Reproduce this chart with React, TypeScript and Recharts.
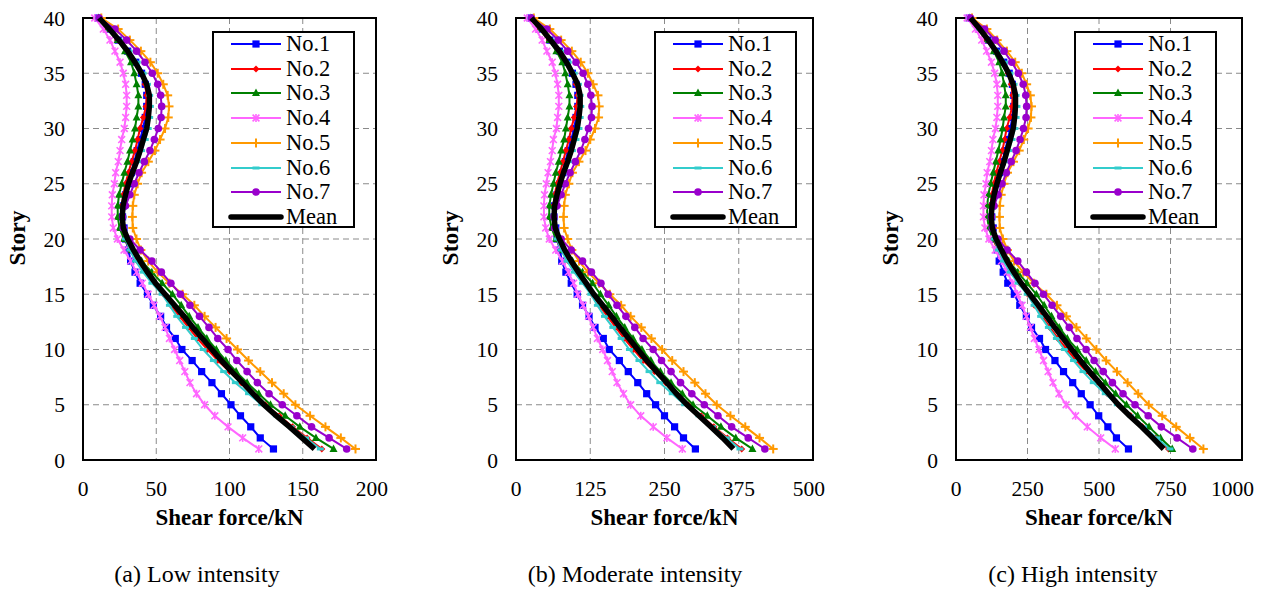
import React from 'react';
import { ScatterChart, Scatter, XAxis, YAxis, CartesianGrid, ReferenceArea } from 'recharts';

const FONT = "'Liberation Serif', 'Times New Roman', serif";

const stories = [1, 2, 3, 4, 5, 6, 7, 8, 9, 10, 11, 12, 13, 14, 15, 16, 17, 18, 19, 20, 21, 22, 23, 24, 25, 26, 27, 28, 29, 30, 31, 32, 33, 34, 35, 36, 37, 38, 39, 40];
const storyTicks = [0, 5, 10, 15, 20, 25, 30, 35, 40];

const lowTicks = [0, 50, 100, 150, 200];
const modTicks = [0, 125, 250, 375, 500];
const highTicks = [0, 250, 500, 750, 1000];

// Low intensity (kN), story 1 -> 40
const lowNo1 = [130, 121, 114.5, 107.5, 101, 94.5, 88, 81, 74.5, 67.5, 63, 57, 53, 48, 44, 39, 35.5, 32.5, 31, 29, 28, 27, 27.5, 29, 31, 33, 35, 37, 39, 41, 42.5, 43.5, 43.5, 42.5, 40, 36, 30.5, 24, 17, 10];
const lowNo2 = [163, 153, 143, 134, 124.5, 116, 108, 100, 92, 85, 78, 72, 66, 60, 55, 49, 43, 37, 32, 28.5, 26.5, 26, 26.4, 27.5, 29, 31, 33.2, 35.5, 37.3, 38.9, 41.2, 43, 43.5, 42.3, 40, 35.5, 29.5, 23.5, 17, 10.5];
const lowNo3 = [171, 159, 148, 138, 128, 120, 112, 104.5, 97.5, 91, 84.5, 78.5, 72.5, 67, 61, 54, 47, 40, 33.5, 28, 25, 23.7, 23.7, 24.6, 26.4, 28.2, 30.3, 32.1, 33.9, 35.5, 36.6, 37.8, 37.8, 36.6, 35, 32.8, 28.7, 23.7, 17.3, 10.5];
const lowNo4 = [120, 109, 99, 90, 83, 77.5, 73, 69.5, 66, 62.5, 59, 56, 52.5, 48.5, 44.5, 40.5, 36.5, 32.5, 28, 23.5, 20.7, 19.6, 19.6, 20, 21.4, 22.3, 24.1, 25.3, 26.4, 28.2, 29.1, 29.8, 29.8, 29.1, 27.5, 25.3, 21.8, 18.4, 13.9, 8];
const lowNo5 = [186, 176, 165.5, 155, 145, 137, 129, 121, 113, 105.5, 98, 90.5, 83, 76, 68, 59, 51, 44.5, 39.5, 36.5, 34, 33.7, 34, 35, 37.3, 40, 44.6, 49.1, 52.6, 56, 58.2, 58.7, 57.8, 54.8, 51, 46, 39.5, 32, 24, 12.5];
const lowNo6 = [162, 152, 142, 132, 122, 113, 104, 96, 89, 82, 76, 70, 64, 59, 54, 47, 41, 36, 32, 29, 27.5, 27.5, 28.5, 30, 32, 34.5, 37.5, 40, 42.5, 44.5, 45.5, 46, 45.5, 44, 41, 37, 31.5, 25, 18, 10.5];
const lowNo7 = [180, 168, 156, 146, 136, 127, 119, 112, 105, 99, 92, 86, 79.5, 73, 66.5, 60, 53.5, 47, 39, 32, 27.5, 27, 29, 32, 35, 38.2, 41.9, 45.7, 48.7, 51.4, 53.3, 53.7, 53, 51, 47.3, 42.3, 36.6, 29.8, 21.8, 11];
const lowMean = [158, 149.5, 141, 132, 123.5, 116, 109, 101.5, 94.5, 88, 81.5, 75, 69, 62.5, 56, 49.5, 44, 39, 34.5, 30.5, 27.5, 26.8, 27.3, 29, 31, 33.7, 36.6, 39, 41.2, 43.5, 44.6, 45.3, 45.3, 43.5, 40, 35.5, 30.5, 24.5, 18, 11];

// Moderate intensity (kN)
const modNo1 = [302, 282, 267, 250, 235, 220, 205, 189, 174, 157, 147, 133, 123, 112, 103, 93, 84, 77, 74, 69, 67, 64, 65, 69, 74, 79, 83, 88, 93, 98, 101, 104, 104, 101, 95, 86, 73, 57, 40, 24];
const modNo2 = [380, 356, 333, 312, 290, 270, 252, 233, 214, 198, 182, 168, 154, 140, 128, 117, 102, 88, 76, 68, 63, 62, 63, 65, 69, 74, 79, 84, 89, 93, 98, 102, 104, 101, 95, 84, 70, 56, 40, 25];
const modNo3 = [398, 370, 345, 322, 298, 280, 261, 243, 227, 212, 197, 183, 169, 156, 142, 129, 112, 95, 80, 67, 60, 56, 56, 59, 63, 67, 72, 76, 81, 84, 87, 90, 90, 87, 83, 78, 68, 56, 41, 25];
const modNo4 = [280, 254, 231, 210, 193, 181, 170, 162, 154, 146, 137, 130, 122, 113, 104, 97, 88, 78, 67, 56, 50, 47, 47, 48, 51, 54, 58, 61, 63, 68, 70, 72, 72, 70, 66, 61, 52, 44, 33, 19];
const modNo5 = [433, 410, 386, 361, 338, 319, 301, 282, 263, 246, 228, 211, 193, 177, 158, 140, 121, 106, 94, 87, 81, 80, 81, 83, 89, 95, 106, 117, 125, 133, 139, 140, 138, 130, 121, 109, 94, 76, 57, 30];
const modNo6 = [377, 354, 331, 308, 284, 263, 242, 224, 207, 191, 177, 163, 149, 137, 126, 112, 98, 86, 76, 69, 65, 65, 68, 71, 76, 82, 89, 95, 101, 106, 108, 109, 108, 105, 98, 88, 75, 60, 43, 25];
const modNo7 = [419, 391, 363, 340, 317, 296, 277, 261, 245, 231, 214, 200, 185, 170, 155, 143, 127, 112, 93, 76, 65, 64, 69, 76, 83, 91, 100, 109, 116, 122, 127, 128, 126, 121, 113, 101, 87, 71, 52, 26];
const modMean = [366, 348, 328, 308, 288, 270, 254, 237, 220, 205, 190, 175, 161, 146, 131, 118, 105, 93, 82, 73, 66, 64, 65, 69, 74, 80, 87, 93, 98, 103, 106, 108, 108, 104, 95, 85, 73, 58, 43, 26];

// High intensity (kN)
const highNo1 = [603, 561, 531, 499, 469, 438, 408, 376, 346, 313, 292, 264, 246, 223, 204, 181, 165, 151, 144, 135, 130, 125, 128, 135, 144, 153, 162, 172, 181, 190, 197, 202, 202, 197, 186, 167, 142, 111, 79, 46];
const highNo2 = [743, 698, 652, 611, 568, 529, 492, 456, 420, 388, 356, 328, 301, 274, 251, 223, 196, 169, 146, 130, 121, 119, 120, 125, 132, 141, 151, 162, 170, 177, 188, 196, 198, 193, 182, 162, 135, 107, 78, 48];
const highNo3 = [756, 715, 675, 635, 596, 558, 522, 488, 455, 424, 389, 361, 334, 308, 281, 248, 216, 184, 154, 129, 115, 109, 109, 113, 121, 130, 139, 148, 156, 163, 168, 174, 174, 168, 161, 151, 132, 109, 80, 48];
const highNo4 = [557, 506, 459, 418, 385, 360, 339, 322, 306, 290, 274, 260, 246, 231, 215, 198, 179, 159, 137, 115, 101, 96, 96, 98, 105, 109, 118, 124, 129, 138, 143, 146, 146, 143, 135, 124, 107, 90, 68, 39];
const highNo5 = [865, 818, 770, 721, 674, 637, 600, 563, 525, 491, 456, 421, 386, 353, 316, 272, 235, 203, 180, 164, 153, 152, 153, 158, 168, 180, 201, 221, 237, 252, 262, 264, 260, 247, 230, 207, 178, 144, 108, 56];
const highNo6 = [748, 702, 656, 610, 564, 522, 480, 444, 411, 379, 351, 323, 296, 273, 249, 217, 189, 166, 148, 134, 127, 127, 132, 139, 148, 159, 173, 185, 196, 206, 210, 213, 210, 203, 189, 171, 146, 116, 83, 49];
const highNo7 = [828, 773, 718, 672, 626, 584, 547, 515, 483, 455, 423, 396, 366, 336, 306, 276, 246, 216, 179, 147, 127, 124, 133, 147, 161, 176, 193, 210, 224, 236, 245, 247, 244, 235, 218, 195, 168, 137, 100, 51];
const highMean = [726, 688, 649, 607, 568, 534, 501, 467, 435, 405, 375, 345, 317, 288, 258, 228, 202, 179, 159, 140, 127, 123, 126, 133, 143, 155, 168, 179, 190, 200, 205, 208, 208, 200, 184, 163, 140, 113, 83, 51];

const seriesNames = ['No.1', 'No.2', 'No.3', 'No.4', 'No.5', 'No.6', 'No.7', 'Mean'];
const seriesColors = ['#0000ff', '#ff0000', '#008000', '#ff66ff', '#ff9900', '#33cccc', '#9900cc', '#000000'];
const seriesMarkers = ['square', 'diamond', 'triangle', 'star', 'plus', 'dash', 'circle', 'none'];

function Glyph({ kind, cx, cy, color }: { kind: string; cx: number; cy: number; color: string }) {
  switch (kind) {
    case 'square':
      return <rect x={cx - 3.6} y={cy - 3.6} width={7.2} height={7.2} fill={color} />;
    case 'diamond':
      return <polygon points={`${cx},${cy - 3.5} ${cx + 3.5},${cy} ${cx},${cy + 3.5} ${cx - 3.5},${cy}`} fill={color} />;
    case 'triangle':
      return <polygon points={`${cx},${cy - 4.5} ${cx + 4},${cy + 3} ${cx - 4},${cy + 3}`} fill={color} />;
    case 'star':
      return (
        <g stroke={color} strokeWidth={1.6}>
          <line x1={cx - 3.4} y1={cy - 3.4} x2={cx + 3.4} y2={cy + 3.4} />
          <line x1={cx - 3.4} y1={cy + 3.4} x2={cx + 3.4} y2={cy - 3.4} />
          <line x1={cx} y1={cy - 4} x2={cx} y2={cy + 4} />
        </g>
      );
    case 'plus':
      return (
        <g stroke={color} strokeWidth={2}>
          <line x1={cx - 4.5} y1={cy} x2={cx + 4.5} y2={cy} />
          <line x1={cx} y1={cy - 4.5} x2={cx} y2={cy + 4.5} />
        </g>
      );
    case 'dash':
      return <line x1={cx - 3.5} y1={cy} x2={cx + 3.5} y2={cy} stroke={color} strokeWidth={3} />;
    case 'circle':
      return <circle cx={cx} cy={cy} r={3.8} fill={color} />;
    default:
      return <g />;
  }
}

function toPoints(values: number[]) {
  return values.map((v, i) => ({ x: v, y: stories[i] }));
}

interface PanelProps {
  plotLeft: number;
  plotWidth: number;
  xMax: number;
  xTicks: number[];
  series: number[][];
  legendLeft: number;
  caption: string;
  captionX: number;
}

const Y_AXIS_W = 70;
const PLOT_TOP = 18;
const PLOT_H = 442;
const X_AXIS_H = 70;

function Legend({ left }: { left: number }) {
  return (
    <div
      style={{
        position: 'absolute',
        left,
        top: 31,
        width: 143,
        height: 197,
        boxSizing: 'border-box',
        border: '2px solid #000',
        background: '#fff',
      }}
    >
      {seriesNames.map((name, i) => {
        const cy = 11 + i * 24.7;
        return (
          <React.Fragment key={name}>
            <svg style={{ position: 'absolute', left: 14, top: cy - 8 }} width={56} height={16}>
              <line
                x1={3}
                y1={8}
                x2={53}
                y2={8}
                stroke={seriesColors[i]}
                strokeWidth={i === 7 ? 5.5 : 2.2}
                strokeLinecap={i === 7 ? 'round' : 'butt'}
              />
              <Glyph kind={seriesMarkers[i]} cx={28} cy={8} color={seriesColors[i]} />
            </svg>
            <div
              style={{
                position: 'absolute',
                left: 72,
                top: cy - 12,
                height: 24,
                lineHeight: '24px',
                fontFamily: FONT,
                fontSize: 22.5,
                color: '#000',
                whiteSpace: 'nowrap',
              }}
            >
              {name}
            </div>
          </React.Fragment>
        );
      })}
    </div>
  );
}

function Panel({ plotLeft, plotWidth, xMax, xTicks, series, legendLeft, caption, captionX }: PanelProps) {
  const width = Y_AXIS_W + plotWidth + 12;
  const height = PLOT_TOP + PLOT_H + X_AXIS_H;
  const tickStyle = { fontFamily: FONT, fontSize: 21.5, fill: '#000' };
  return (
    <>
      <div style={{ position: 'absolute', left: plotLeft - Y_AXIS_W, top: 0, fontFamily: FONT }}>
        <ScatterChart width={width} height={height} margin={{ top: PLOT_TOP, right: 12, bottom: 0, left: 0 }}>
          <CartesianGrid stroke="#8a8a8a" strokeDasharray="6 4" strokeWidth={1} />
          <XAxis
            type="number"
            dataKey="x"
            domain={[0, xMax]}
            ticks={xTicks}
            allowDataOverflow
            height={X_AXIS_H}
            axisLine={false}
            tickLine={false}
            tickSize={0}
            tickMargin={21}
            tick={tickStyle}
            label={{
              value: 'Shear force/kN',
              position: 'insideBottom',
              offset: 5,
              style: { fontFamily: FONT, fontSize: 23, fontWeight: 'bold', fill: '#000' },
            }}
          />
          <YAxis
            type="number"
            dataKey="y"
            domain={[0, 40]}
            ticks={storyTicks}
            width={Y_AXIS_W}
            axisLine={false}
            tickLine={false}
            tickSize={0}
            tickMargin={18}
            tick={tickStyle}
          />
          {series.map((vals, i) => (
            <Scatter
              key={seriesNames[i]}
              name={seriesNames[i]}
              data={toPoints(vals)}
              fill={seriesColors[i]}
              line={{ stroke: seriesColors[i], strokeWidth: i === 7 ? 5.5 : 2 }}
              lineType="joint"
              shape={(p: any) => <Glyph kind={seriesMarkers[i]} cx={p.cx} cy={p.cy} color={seriesColors[i]} />}
              isAnimationActive={false}
            />
          ))}
          <ReferenceArea x1={0} x2={xMax} y1={0} y2={40} fill="none" stroke="#000" strokeWidth={2} ifOverflow="visible" />
        </ScatterChart>
      </div>
      <div
        style={{
          position: 'absolute',
          left: plotLeft - 66 - 50,
          top: 238 - 15,
          width: 100,
          height: 30,
          lineHeight: '30px',
          textAlign: 'center',
          transform: 'rotate(-90deg)',
          fontFamily: FONT,
          fontSize: 23.5,
          fontWeight: 'bold',
          color: '#000',
        }}
      >
        Story
      </div>
      <Legend left={legendLeft} />
      <div
        style={{
          position: 'absolute',
          left: captionX - 150,
          top: 562,
          width: 300,
          textAlign: 'center',
          lineHeight: 1,
          fontFamily: FONT,
          fontSize: 24,
          color: '#000',
        }}
      >
        {caption}
      </div>
    </>
  );
}

export default function App() {
  return (
    <div style={{ position: 'absolute', left: 0, top: 0, width: 1276, height: 590, background: '#fff', overflow: 'hidden' }}>
      <Panel
        plotLeft={83}
        plotWidth={293}
        xMax={200}
        xTicks={lowTicks}
        series={[lowNo1, lowNo2, lowNo3, lowNo4, lowNo5, lowNo6, lowNo7, lowMean]}
        legendLeft={212}
        caption="(a) Low intensity"
        captionX={197}
      />
      <Panel
        plotLeft={516}
        plotWidth={297}
        xMax={500}
        xTicks={modTicks}
        series={[modNo1, modNo2, modNo3, modNo4, modNo5, modNo6, modNo7, modMean]}
        legendLeft={654}
        caption="(b) Moderate intensity"
        captionX={635}
      />
      <Panel
        plotLeft={956}
        plotWidth={286}
        xMax={1000}
        xTicks={highTicks}
        series={[highNo1, highNo2, highNo3, highNo4, highNo5, highNo6, highNo7, highMean]}
        legendLeft={1074}
        caption="(c) High intensity"
        captionX={1073}
      />
    </div>
  );
}
